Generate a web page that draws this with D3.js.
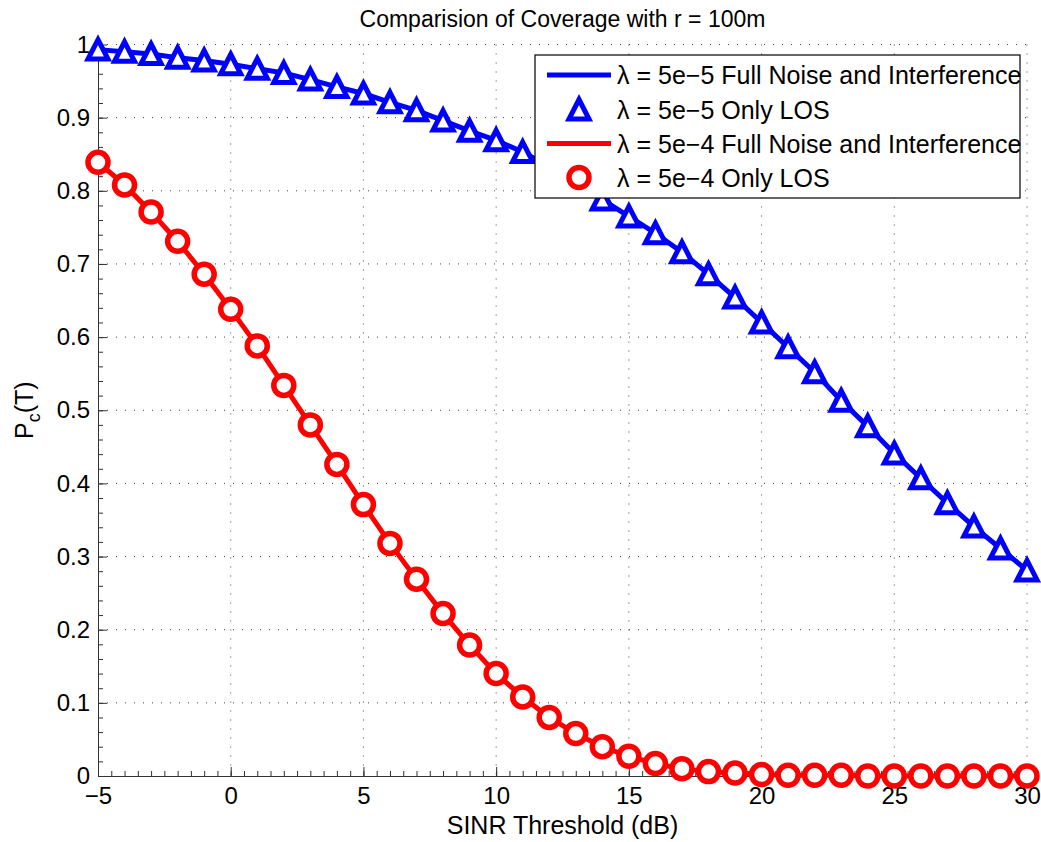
<!DOCTYPE html>
<html>
<head>
<meta charset="utf-8">
<script src="https://cdn.jsdelivr.net/npm/d3@7"></script>
<style>
  body { margin: 0; background: #fff; }
  svg text { font-family: "Liberation Sans", Arial, Helvetica, sans-serif; fill: #000; }
  .axis path, .axis line { stroke: #333; }
  .grid line { stroke: #444; stroke-dasharray: 1,8; }
</style>
</head>
<body>
<div id="chart"></div>
<script>
// SINR thresholds (dB)
const thresholds = [-5, -4, -3, -2, -1, 0, 1, 2, 3, 4, 5, 6, 7, 8, 9, 10, 11, 12,
  13, 14, 15, 16, 17, 18, 19, 20, 21, 22, 23, 24, 25, 26, 27, 28, 29, 30];

// lambda = 5e-5 (full noise curve and LOS markers lie on top of each other)
const lowDensityFull = [0.993, 0.990, 0.987, 0.982, 0.978, 0.973, 0.967, 0.961, 0.952,
  0.942, 0.933, 0.921, 0.910, 0.896, 0.882, 0.869, 0.853, 0.833, 0.811, 0.788, 0.765,
  0.742, 0.716, 0.686, 0.654, 0.620, 0.586, 0.552, 0.513, 0.478, 0.441, 0.407, 0.373,
  0.341, 0.311, 0.281];
const lowDensityLos = lowDensityFull;

// lambda = 5e-4
const highDensityFull = [0.839, 0.808, 0.771, 0.731, 0.686, 0.638, 0.588, 0.534, 0.480,
  0.426, 0.371, 0.318, 0.269, 0.222, 0.179, 0.140, 0.108, 0.080, 0.058, 0.040, 0.027,
  0.017, 0.010, 0.006, 0.004, 0.002, 0.001, 0.001, 0.001, 0, 0, 0, 0, 0, 0, 0];
const highDensityLos = highDensityFull;

const xTicks = [-5, 0, 5, 10, 15, 20, 25, 30];
const yTicks = [0, 0.1, 0.2, 0.3, 0.4, 0.5, 0.6, 0.7, 0.8, 0.9, 1];

const legendLabels = [
  'λ = 5e−5 Full Noise and Interference',
  'λ = 5e−5 Only LOS',
  'λ = 5e−4 Full Noise and Interference',
  'λ = 5e−4 Only LOS'
];

const width = 1041, height = 842;
const margin = {top: 44.5, right: 14, bottom: 66, left: 98};
const innerW = width - margin.left - margin.right;
const innerH = height - margin.top - margin.bottom;
const tickFont = 24, labelFont = 25;

const svg = d3.select('#chart').append('svg')
    .attr('width', width)
    .attr('height', height);

const chart = svg.append('g')
    .attr('transform', `translate(${margin.left},${margin.top})`);

const xScale = d3.scaleLinear().domain([-5, 30]).range([0, innerW]);
const yScale = d3.scaleLinear().domain([0, 1]).range([innerH, 0]);

// dotted grid
chart.append('g')
    .attr('class', 'grid')
    .selectAll('line')
    .data(xTicks.slice(1))
  .join('line')
    .attr('x1', d => xScale(d)).attr('x2', d => xScale(d))
    .attr('y1', 0).attr('y2', innerH);

chart.append('g')
    .attr('class', 'grid')
    .selectAll('line')
    .data(yTicks.slice(1))
  .join('line')
    .attr('x1', 0).attr('x2', innerW)
    .attr('y1', d => yScale(d)).attr('y2', d => yScale(d));

// minor ticks
chart.append('g')
    .attr('class', 'axis')
    .attr('transform', `translate(0,${innerH})`)
    .call(d3.axisBottom(xScale).tickValues(d3.range(-50, 301, 5).map(d => d / 10))
      .tickSize(-5).tickSizeOuter(0).tickFormat(''))
    .call(g => g.select('.domain').remove());

chart.append('g')
    .attr('class', 'axis')
    .call(d3.axisLeft(yScale).tickValues(d3.range(0, 51).map(d => d / 50))
      .tickSize(-5).tickSizeOuter(0).tickFormat(''))
    .call(g => g.select('.domain').remove());

// major axes
const xAxisG = chart.append('g')
    .attr('class', 'axis')
    .attr('transform', `translate(0,${innerH})`)
    .call(d3.axisBottom(xScale).tickValues(xTicks).tickFormat(d3.format('d'))
      .tickSize(-9).tickSizeOuter(0).tickPadding(11));

const yAxisG = chart.append('g')
    .attr('class', 'axis')
    .call(d3.axisLeft(yScale).tickValues(yTicks).tickFormat(d => d)
      .tickSize(-9).tickSizeOuter(0).tickPadding(8));

[xAxisG, yAxisG].forEach(g => g.selectAll('text')
    .attr('font-size', tickFont)
    .style('font-family', '"Liberation Sans", Arial, sans-serif'));

// series
const lineGen = vals => d3.line()
    .x((d, i) => xScale(thresholds[i]))
    .y(d => yScale(d))(vals);

const triangle = 'M0,-10L10,9.5L-10,9.5Z';

chart.append('path')
    .attr('d', lineGen(lowDensityFull))
    .attr('fill', 'none').attr('stroke', '#0000ff').attr('stroke-width', 5);

chart.append('g').selectAll('path')
    .data(lowDensityLos)
  .join('path')
    .attr('d', triangle)
    .attr('transform', (d, i) => `translate(${xScale(thresholds[i])},${yScale(d)})`)
    .attr('fill', '#fff').attr('stroke', '#0000ff').attr('stroke-width', 5);

chart.append('path')
    .attr('d', lineGen(highDensityFull))
    .attr('fill', 'none').attr('stroke', '#ff0000').attr('stroke-width', 5);

chart.append('g').selectAll('circle')
    .data(highDensityLos)
  .join('circle')
    .attr('cx', (d, i) => xScale(thresholds[i]))
    .attr('cy', d => yScale(d))
    .attr('r', 10)
    .attr('fill', '#fff').attr('stroke', '#ff0000').attr('stroke-width', 5.5);

// title and axis labels
svg.append('text')
    .attr('x', margin.left + innerW / 2).attr('y', 27)
    .attr('text-anchor', 'middle').attr('font-size', 23)
    .text('Comparision of Coverage with r = 100m');

svg.append('text')
    .attr('x', margin.left + innerW / 2).attr('y', 834)
    .attr('text-anchor', 'middle').attr('font-size', labelFont)
    .text('SINR Threshold (dB)');

const yLabel = svg.append('text')
    .attr('transform', `translate(33,${margin.top + innerH / 2}) rotate(-90)`)
    .attr('text-anchor', 'middle').attr('font-size', labelFont);
yLabel.append('tspan').text('P');
yLabel.append('tspan').attr('dy', 7).attr('font-size', 18).text('c');
yLabel.append('tspan').attr('dy', -7).text('(T)');

// legend
const legend = svg.append('g').attr('transform', 'translate(535,55)');
legend.append('rect')
    .attr('width', 485).attr('height', 143)
    .attr('fill', '#fff').attr('stroke', '#000').attr('stroke-width', 1.2);

const rowY = [20, 54.5, 88.5, 122.5];
const legendColors = ['#0000ff', '#0000ff', '#ff0000', '#ff0000'];
const legendKind = ['line', 'triangle', 'line', 'circle'];

legendKind.forEach((kind, i) => {
  const g = legend.append('g').attr('transform', `translate(0,${rowY[i]})`);
  if (kind === 'line') {
    g.append('line').attr('x1', 12).attr('x2', 76)
      .attr('stroke', legendColors[i]).attr('stroke-width', 5);
  } else if (kind === 'triangle') {
    g.append('path').attr('d', triangle).attr('transform', 'translate(44,0)')
      .attr('fill', '#fff').attr('stroke', legendColors[i]).attr('stroke-width', 5);
  } else {
    g.append('circle').attr('cx', 44).attr('r', 10)
      .attr('fill', '#fff').attr('stroke', legendColors[i]).attr('stroke-width', 5.5);
  }
  g.append('text')
    .attr('x', 82).attr('dy', '0.36em')
    .attr('font-size', 25)
    .text(legendLabels[i]);
});
</script>
</body>
</html>
